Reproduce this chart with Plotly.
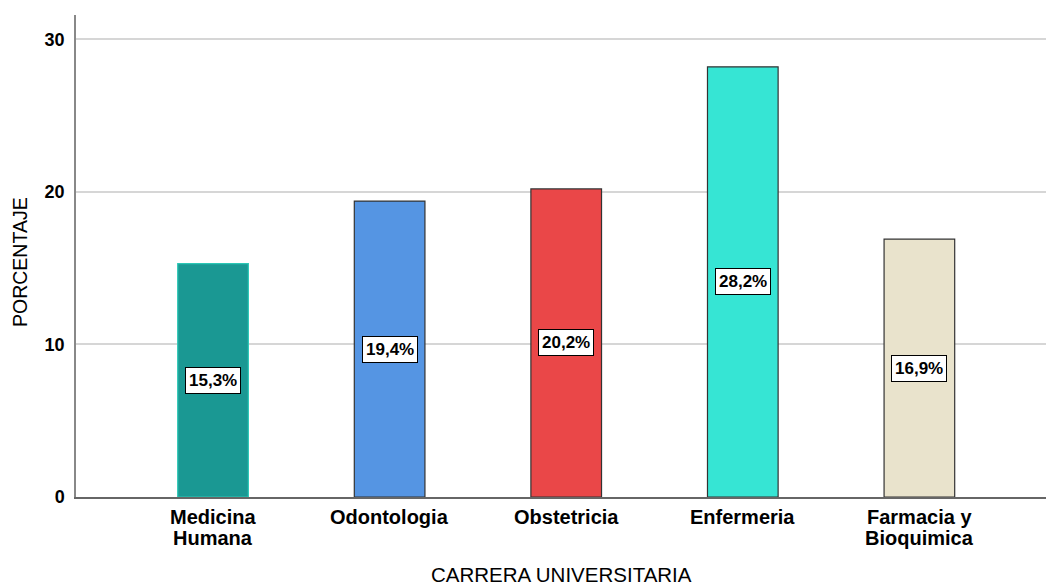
import plotly.graph_objects as go

categorias = ["Medicina<br>Humana", "Odontologia", "Obstetricia", "Enfermeria", "Farmacia y<br>Bioquimica"]
porcentajes = [15.3, 19.4, 20.2, 28.2, 16.9]
etiquetas = ["15,3%", "19,4%", "20,2%", "28,2%", "16,9%"]
colores = ["#1a9893", "#5595e3", "#ea4748", "#36e5d4", "#e9e3cc"]
bordes = ["#2cc7b6", "#333333", "#333333", "#333333", "#333333"]

FONT = "Liberation Sans, Arial, sans-serif"

fig = go.Figure(
    go.Bar(
        x=list(range(len(categorias))),
        y=porcentajes,
        width=0.4,
        marker=dict(color=colores, line=dict(color=bordes, width=1.2)),
        hoverinfo="skip",
    )
)

# value boxes at half the bar height
for i, (v, t) in enumerate(zip(porcentajes, etiquetas)):
    fig.add_annotation(
        x=i, y=v / 2, text=f"<b>{t}</b>", showarrow=False,
        font=dict(family=FONT, size=17, color="black"),
        bgcolor="white", bordercolor="black", borderwidth=1, borderpad=3,
    )

# category labels, one annotation per line for tight line spacing
for i, c in enumerate(categorias):
    for j, linea in enumerate(c.split("<br>")):
        fig.add_annotation(
            x=i, xref="x", y=0, yref="paper", yanchor="middle",
            yshift=-20 - 21 * j, text=f"<b>{linea}</b>", showarrow=False,
            font=dict(family=FONT, size=20, color="black"),
        )

# axis titles
fig.add_annotation(
    x=0.5, xref="paper", y=0, yref="paper", yanchor="middle", yshift=-77,
    text="CARRERA UNIVERSITARIA", showarrow=False,
    font=dict(family=FONT, size=20.5, color="black"),
)
fig.add_annotation(
    x=0, xref="paper", xanchor="center", xshift=-56,
    y=0.4876, yref="paper", yanchor="middle", textangle=-90,
    text="PORCENTAJE", showarrow=False,
    font=dict(family=FONT, size=19.5, color="black"),
)

fig.update_layout(
    width=1046, height=588,
    margin=dict(l=76, r=0, t=15, b=91),
    paper_bgcolor="white", plot_bgcolor="white",
    showlegend=False,
    font=dict(family=FONT, color="black"),
    xaxis=dict(
        tickvals=list(range(len(categorias))),
        showticklabels=False,
        range=[-0.776, 4.717],
        showline=True, linecolor="#666666", linewidth=1.5,
        showgrid=False, ticks="", zeroline=False,
    ),
    yaxis=dict(
        range=[0, 31.6],
        tickvals=[0, 10, 20, 30],
        ticktext=["<b>0</b>", "<b>10</b>", "<b>20</b>", "<b>30</b>"],
        tickfont=dict(family=FONT, size=18, color="black"),
        ticklabelstandoff=6,
        showline=True, linecolor="#888888", linewidth=1.5,
        showgrid=True, gridcolor="#d6d6d6", gridwidth=1.5,
        zeroline=False, ticks="",
    ),
)

fig.write_html("out.html")
